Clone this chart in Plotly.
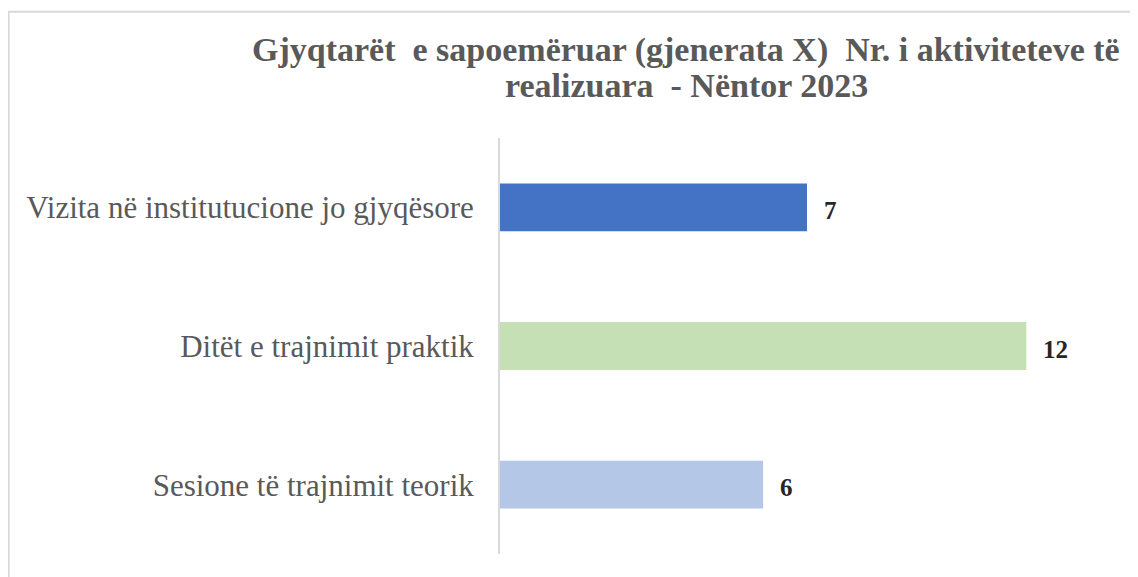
import plotly.graph_objects as go

categories = ["Vizita në institutucione jo gjyqësore", "Ditët e trajnimit praktik", "Sesione të trajnimit teorik"]
values = [7, 12, 6]
bar_colors = ["#4472c4", "#c5e0b4", "#b4c7e7"]
title_lines = ["Gjyqtarët  e sapoemëruar (gjenerata X)  Nr. i aktiviteteve të",
               "realizuara  - Nëntor 2023"]

# page body has an 8px offset; figure sized to fit the window
OFF = 8
W, H = 1138 - OFF, 577 - OFF
# screen-coordinate plot area
SX0, SX1, SY0, SY1 = 500, 1113.6, 137.5, 554.5
L = SX0 - OFF
R = W - (SX1 - OFF)
T = SY0 - OFF
B = H - (SY1 - OFF)
pw = SX1 - SX0
ph = SY1 - SY0


def px_x(s):
    return (s - SX0) / pw


def px_y(s):
    return (SY1 - s) / ph


fig = go.Figure()
fig.add_trace(go.Bar(
    x=values, y=categories, orientation="h",
    marker=dict(color=bar_colors, line=dict(width=0)),
    width=0.345, hoverinfo="skip",
))

for c, v in zip(categories, values):
    fig.add_annotation(x=v, y=c, text=f"<b>{v}</b>", showarrow=False,
                       xanchor="left", xshift=15, yshift=-3,
                       font=dict(family="Liberation Serif", size=25, color="#262626"))

# title, two lines
for line, sy in zip(title_lines, [49, 85]):
    fig.add_annotation(xref="paper", yref="paper", x=px_x(686), y=px_y(sy),
                       text=f"<b>{line}</b>", showarrow=False,
                       xanchor="center", yanchor="middle",
                       font=dict(family="Liberation Serif", size=34, color="#595959"))

# outer frame (partially cropped)
fig.add_shape(type="rect", xref="paper", yref="paper",
              x0=px_x(9), x1=px_x(1160), y0=px_y(11), y1=px_y(600),
              line=dict(color="#d9d9d9", width=2), fillcolor="rgba(0,0,0,0)", layer="below")

fig.update_layout(
    width=W, height=H,
    margin=dict(l=L, r=R, t=T, b=B),
    paper_bgcolor="white", plot_bgcolor="white",
    showlegend=False,
    xaxis=dict(range=[0, 14], showticklabels=False, showgrid=False, zeroline=False,
               showline=False, fixedrange=True),
    yaxis=dict(autorange="reversed", showline=True, linecolor="#d9d9d9", linewidth=2,
               showgrid=False, zeroline=False, ticks="", ticklabelstandoff=18,
               tickfont=dict(family="Liberation Serif", size=31, color="#595959")),
)

fig.write_html("out.html")
